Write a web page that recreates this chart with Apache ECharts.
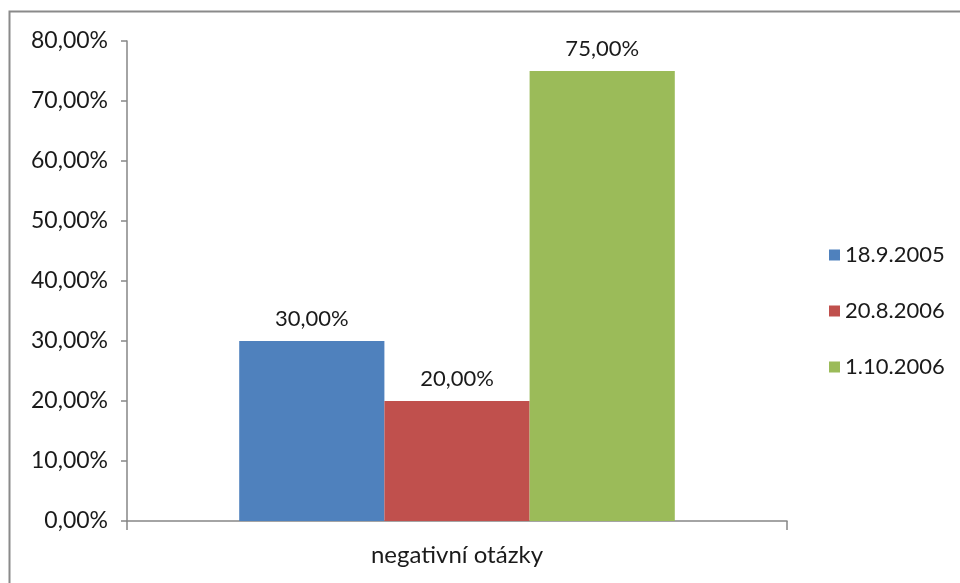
<!DOCTYPE html>
<html>
<head>
<meta charset="utf-8">
<script src="https://cdn.jsdelivr.net/npm/echarts@6/dist/echarts.min.js"></script>
<style>
    html, body { margin: 0; padding: 0; background: #fff; }
    #barChart { width: 960px; height: 583px; }
</style>
</head>
<body>
<div id="barChart"></div>
<script>
    const categories = ['negativní otázky'];
    const seriesNames = ['18.9.2005', '20.8.2006', '1.10.2006'];
    const seriesValues = [[30], [20], [75]];
    const color = ['#4F81BD', '#C0504D', '#9BBB59'];

    const font = 'Lato, "Open Sans", sans-serif';
    const fmt = v => v.toFixed(2).replace('.', ',') + '%';

    const series = seriesNames.map((name, i) => ({
        name,
        type: 'bar',
        data: seriesValues[i],
        barGap: '0%',
        barCategoryGap: '34%',
        itemStyle: { color: color[i] },
        label: {
            show: true,
            position: 'top',
            distance: 11,
            formatter: p => fmt(p.value),
            color: '#1a1a1a',
            fontFamily: font,
            fontSize: 22
        }
    }));

    const option = {
        animation: false,
        color,
        graphic: [{
            type: 'rect',
            shape: { x: 9.5, y: 11.5, width: 1000, height: 1000 },
            style: { fill: 'none', stroke: '#8a8a8a', lineWidth: 2 },
            silent: true
        }],
        grid: { left: 127, right: 173, top: 41, bottom: 62 },
        legend: {
            orient: 'vertical',
            left: 829,
            top: 244,
            padding: 0,
            itemWidth: 11,
            itemHeight: 11,
            itemGap: 34,
            icon: 'rect',
            textStyle: { fontFamily: font, fontSize: 22, color: '#1a1a1a' },
            data: seriesNames
        },
        xAxis: {
            type: 'category',
            data: categories,
            axisLine: { lineStyle: { color: '#868686', width: 1.5 } },
            axisTick: { show: true, length: 9, lineStyle: { color: '#868686', width: 1.5 } },
            axisLabel: { margin: 22, fontFamily: font, fontSize: 24, color: '#1a1a1a' }
        },
        yAxis: {
            type: 'value',
            min: 0,
            max: 80,
            interval: 10,
            axisLine: { show: true, lineStyle: { color: '#868686', width: 1.5 } },
            axisTick: { show: true, length: 6, lineStyle: { color: '#868686', width: 1.5 } },
            splitLine: { show: false },
            axisLabel: { margin: 19, formatter: fmt, fontFamily: font, fontSize: 23, color: '#1a1a1a' }
        },
        series
    };

    const myChart = echarts.init(document.getElementById('barChart'));
    myChart.setOption(option);
</script>
</body>
</html>
